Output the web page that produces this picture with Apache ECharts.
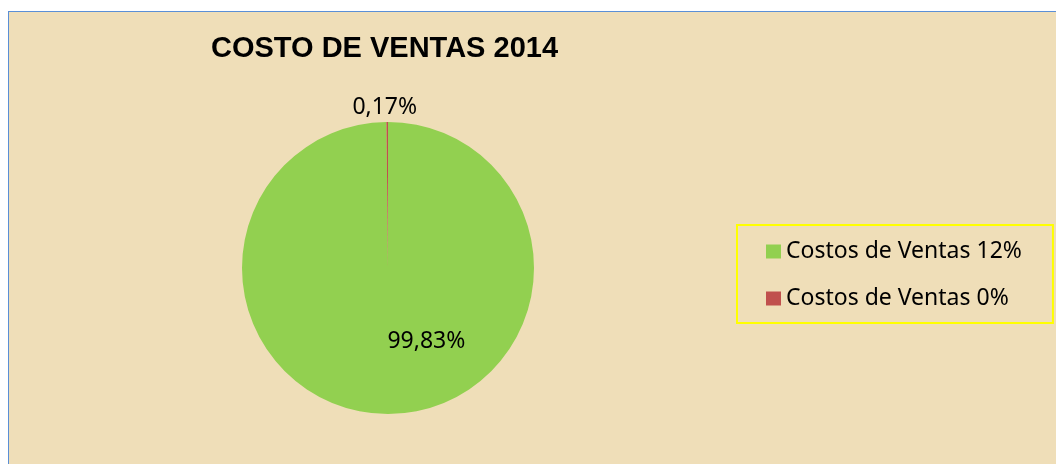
<!DOCTYPE html>
<html lang="es">
<head>
    <meta charset="UTF-8">
    <title>Costo de ventas 2014</title>
    <script src="https://cdn.jsdelivr.net/npm/echarts@6/dist/echarts.min.js"></script>
    <style>
        body {
            margin: 0;
            background: #ffffff;
        }
        #main {
            position: absolute;
            left: 8px;
            top: 11px;
            width: 1047px;
            height: 452px;
            border-left: 1px solid #5b8fd6;
            border-top: 1px solid #5b8fd6;
        }
    </style>
</head>
<body>
<div id="main"></div>
<script type="text/javascript">
    // datos del grafico
    var categorias = ['Costos de Ventas 12%', 'Costos de Ventas 0%'];
    var porcentajes = [99.83, 0.17];
    var colores = ['#92d050', '#c0504d'];

    var myChart = echarts.init(document.getElementById('main'));

    var datos = [];
    for (var i = 0; i < categorias.length; i++) {
        datos.push({name: categorias[i], value: porcentajes[i], itemStyle: {color: colores[i]}});
    }
    // etiqueta del sector grande dentro, la del pequeño fuera
    datos[0].label = {position: 'inside', offset: [38, -3]};
    datos[1].label = {position: 'outside', distance: 6, offset: [65, 0]};

    var option = {
        backgroundColor: '#efdeb8',
        title: {
            text: 'COSTO DE VENTAS 2014',
            left: 197,
            top: 17,
            textStyle: {
                fontFamily: 'Liberation Sans',
                fontWeight: 'bold',
                fontSize: 29,
                color: '#000'
            }
        },
        legend: {
            orient: 'vertical',
            left: 728,
            top: 213,
            padding: [15, 31, 13, 29],
            itemGap: 24,
            itemWidth: 15,
            itemHeight: 14,
            icon: 'rect',
            borderColor: '#ffff00',
            borderWidth: 2,
            data: categorias,
            textStyle: {
                fontFamily: 'Noto Sans',
                fontSize: 23,
                color: '#000'
            }
        },
        series: [
            {
                type: 'pie',
                center: [379, 256],
                radius: 146,
                startAngle: 90,
                clockwise: true,
                silent: true,
                label: {
                    show: true,
                    fontFamily: 'Noto Sans',
                    fontSize: 23,
                    color: '#000',
                    formatter: function (p) {
                        return p.value.toFixed(2).replace('.', ',') + '%';
                    }
                },
                labelLine: {show: false},
                data: datos
            }
        ]
    };

    myChart.setOption(option);
</script>
</body>
</html>
